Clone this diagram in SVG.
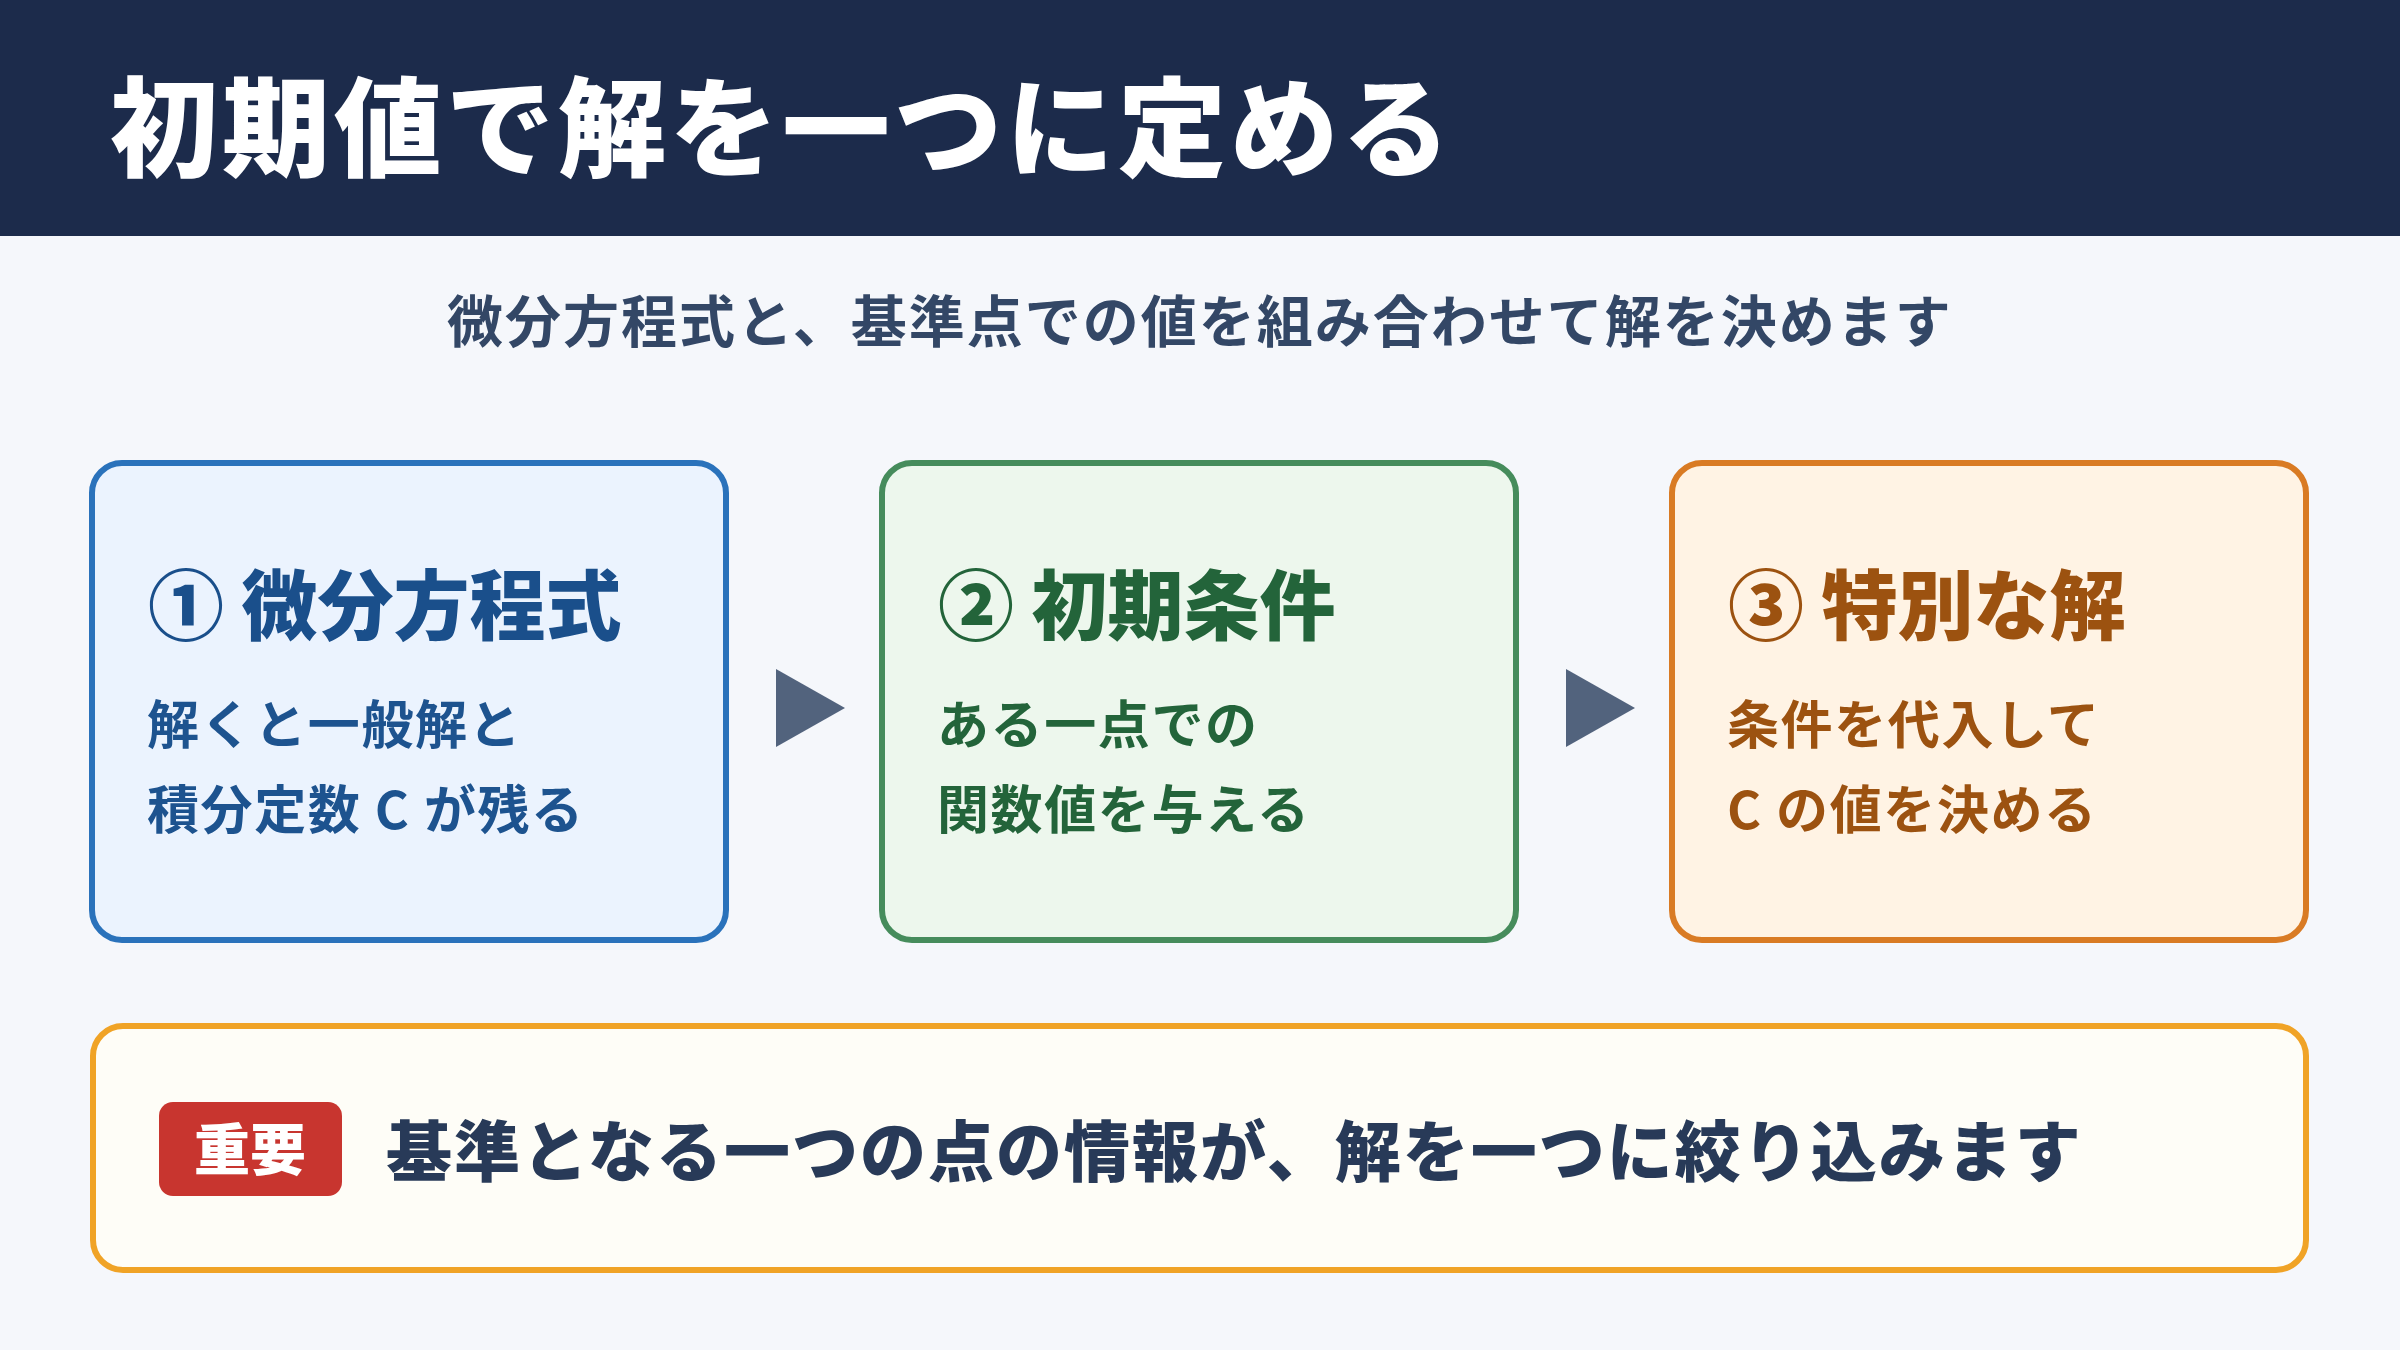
<svg xmlns="http://www.w3.org/2000/svg" width="2400" height="1350" viewBox="0 0 2400 1350">
  <style>
    text { font-family: "Noto Sans CJK JP", "Noto Sans", sans-serif; }
    .title { font-size: 108px; font-weight: 900; fill: #ffffff; letter-spacing: 4px; }
    .sub { font-size: 56px; font-weight: 700; fill: #334766; letter-spacing: 2px; }
    .box { stroke-width: 6; }
    .head { font-size: 76px; font-weight: 800; }
    .body { font-size: 52px; font-weight: 700; letter-spacing: 1.6px; }
    .arrow { fill: #52637d; }
  </style>
  <rect x="0" y="0" width="2400" height="1350" fill="#f5f7fb"/>
  <g id="header">
    <rect x="0" y="0" width="2400" height="236" fill="#1c2b4b"/>
    <text class="title" x="110" y="168">初期値で解を一つに定める</text>
  </g>
  <g id="subtitle">
    <text class="sub" x="1200" y="342" text-anchor="middle">微分方程式と、基準点での値を組み合わせて解を決めます</text>
  </g>
  <g id="node1">
    <rect class="box" x="92" y="463" width="634" height="477" rx="30" fill="#ebf3fe" stroke="#2a72bb"/>
    <text class="head" x="148" y="634" fill="#1a4f8b">① 微分方程式</text>
    <text class="body" x="147" y="744" fill="#1d538f">解くと一般解と</text>
    <text class="body" x="147" y="829" fill="#1d538f">積分定数 C が残る</text>
  </g>
  <g id="node2">
    <rect class="box" x="882" y="463" width="634" height="477" rx="30" fill="#edf7ed" stroke="#468c5c"/>
    <text class="head" x="938" y="634" fill="#23643a">② 初期条件</text>
    <text class="body" x="937" y="744" fill="#23643a">ある一点での</text>
    <text class="body" x="937" y="829" fill="#23643a">関数値を与える</text>
  </g>
  <g id="node3">
    <rect class="box" x="1672" y="463" width="634" height="477" rx="30" fill="#fff3e4" stroke="#d97b24"/>
    <text class="head" x="1728" y="634" fill="#9c5210">③ 特別な解</text>
    <text class="body" x="1727" y="744" fill="#9c5210">条件を代入して</text>
    <text class="body" x="1727" y="829" fill="#9c5210">C の値を決める</text>
  </g>
  <g id="connectors">
    <polygon class="arrow" points="776,669 845,708 776,747"/>
    <polygon class="arrow" points="1566,669 1635,708 1566,747"/>
  </g>
  <g id="note">
    <rect x="93" y="1026" width="2213" height="244" rx="30" fill="#fefdf7" stroke="#f0a326" stroke-width="6"/>
    <rect x="159" y="1102" width="183" height="94" rx="14" fill="#c8352f"/>
    <text x="250" y="1170" text-anchor="middle" font-size="56" font-weight="800" fill="#ffffff">重要</text>
    <text x="386" y="1176" font-size="66" font-weight="800" fill="#283a58" letter-spacing="2">基準となる一つの点の情報が、解を一つに絞り込みます</text>
  </g>
</svg>
